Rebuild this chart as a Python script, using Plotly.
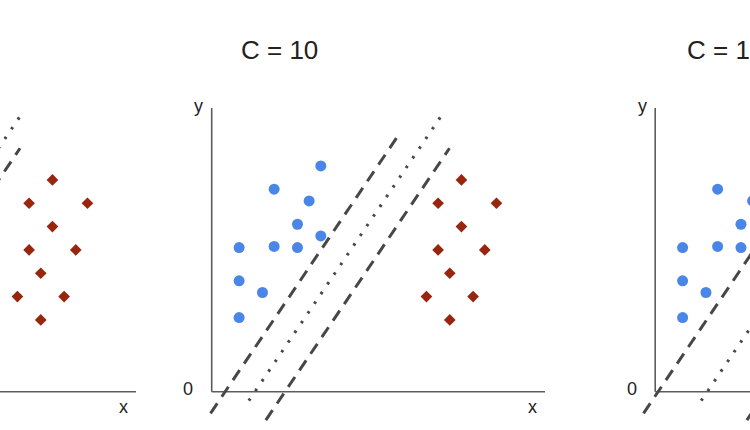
import plotly.graph_objects as go

# ---------------- data (chart units) ----------------
panel_titles = ["C = 100", "C = 10", "C = 1"]

blue_x = [9.35, 5.35, 8.35, 7.35, 9.35, 2.35, 5.35, 7.35, 2.35, 4.35, 2.35]
blue_y = [19.35, 17.35, 16.35, 14.35, 13.35, 12.35, 12.45, 12.35, 9.5, 8.5, 6.35]

red_x = [21.4, 19.4, 24.4, 21.4, 19.4, 23.4, 20.4, 18.4, 22.4, 20.4]
red_y = [18.15, 16.15, 16.15, 14.15, 12.15, 12.15, 10.15, 8.15, 8.15, 6.15]

slope = 1.48
# x-intercepts of [upper margin, boundary, lower margin] per panel
upper_x0 = [0.83, 1.15, 0.25]
mid_x0 = [2.68, 3.70, 4.46]
lower_x0 = [4.53, 6.28, 9.50]
# y extents of each line type
upper_y = [-1.85, 22.1]
mid_y = [-0.77, 24.08]
lower_y = [-2.43, 20.86]

x_axis_len = 28.56
y_axis_len = 24.3
axis_labels = ["x", "y", "0"]

# ---------------- layout constants ----------------
U = 11.67            # px per unit
ORIGIN_Y = 391.7     # px from top
W, H = 750, 430
panel_origin_px = [-197.3, 211.7, 655.2]
panel_dom_px = [(0, 165), (165, 600), (600, 750)]
title_x = [2.34, 2.34, 2.55]

BLUE = "#4a86e8"
RED = "#98260f"
LINE = "#474747"
AXIS = "#5c5c5c"

fig = go.Figure()
layout = dict(width=W, height=H, margin=dict(l=0, r=0, t=0, b=0),
              paper_bgcolor="white", plot_bgcolor="white",
              showlegend=False, annotations=[])

yr = [(ORIGIN_Y - H) / U, ORIGIN_Y / U]

for i in range(3):
    sfx = "" if i == 0 else str(i + 1)
    xa, ya = "x" + sfx, "y" + sfx
    a, b = panel_dom_px[i]
    ox = panel_origin_px[i]
    layout["xaxis" + sfx] = dict(domain=[a / W, b / W], range=[(a - ox) / U, (b - ox) / U],
                                 visible=False, showgrid=False, zeroline=False, anchor=ya)
    layout["yaxis" + sfx] = dict(domain=[0, 1], range=yr, visible=False,
                                 showgrid=False, zeroline=False, anchor=xa)

    # axes
    fig.add_trace(go.Scatter(x=[0, x_axis_len], y=[0, 0], mode="lines",
                             line=dict(color=AXIS, width=1.6), xaxis=xa, yaxis=ya, hoverinfo="skip"))
    fig.add_trace(go.Scatter(x=[0, 0], y=[0, y_axis_len], mode="lines",
                             line=dict(color=AXIS, width=1.6), xaxis=xa, yaxis=ya, hoverinfo="skip"))

    # margin lines and boundary
    for x0, ys, dash, wd in [(upper_x0[i], upper_y, "12px,8px", 3),
                             (lower_x0[i], lower_y, "12px,8px", 3),
                             (mid_x0[i], mid_y, "2.6px,9.1px", 3)]:
        xs = [x0 + yy / slope for yy in ys]
        fig.add_trace(go.Scatter(x=xs, y=ys, mode="lines",
                                 line=dict(color=LINE, width=wd, dash=dash),
                                 xaxis=xa, yaxis=ya, hoverinfo="skip"))

    # points
    fig.add_trace(go.Scatter(x=blue_x, y=blue_y, mode="markers",
                             marker=dict(color=BLUE, size=11, symbol="circle"),
                             xaxis=xa, yaxis=ya))
    fig.add_trace(go.Scatter(x=red_x, y=red_y, mode="markers",
                             marker=dict(color=RED, size=9, symbol="diamond"),
                             xaxis=xa, yaxis=ya))

    f = dict(family="Liberation Sans, Arial, sans-serif", color="#222222")
    layout["annotations"] += [
        dict(x=title_x[i], y=29.28, xref=xa, yref=ya, text=panel_titles[i], showarrow=False,
             xanchor="left", yanchor="middle", font=dict(f, size=26)),
        dict(x=x_axis_len - 1.07, y=-1.285, xref=xa, yref=ya, text=axis_labels[0],
             showarrow=False, xanchor="center", yanchor="middle", font=dict(f, size=18)),
        dict(x=-1.1, y=24.48, xref=xa, yref=ya, text=axis_labels[1],
             showarrow=False, xanchor="center", yanchor="middle", font=dict(f, size=18)),
        dict(x=-2.03, y=0.26, xref=xa, yref=ya, text=axis_labels[2],
             showarrow=False, xanchor="center", yanchor="middle", font=dict(f, size=18)),
    ]

fig.update_layout(**layout)
fig.write_html("out.html")
